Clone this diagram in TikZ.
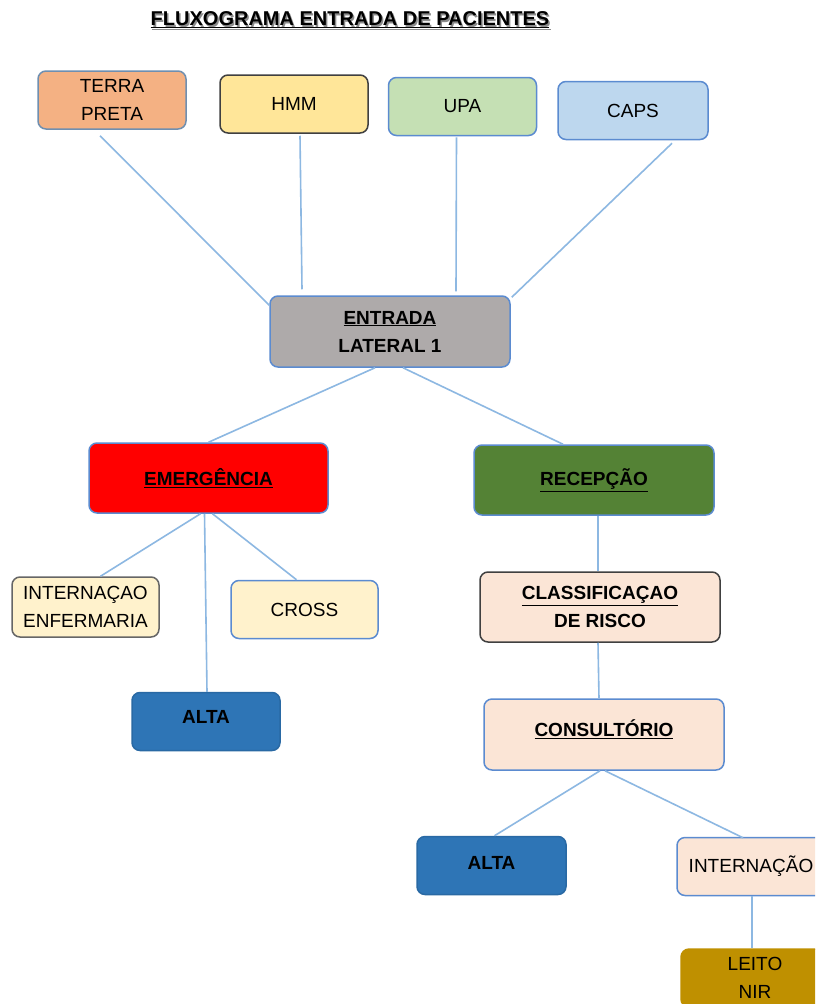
\documentclass[tikz,border=0pt]{standalone}
\usepackage{fontspec}
\setmainfont{Liberation Sans}
\usetikzlibrary{calc}
\definecolor{cTerra}{HTML}{F4B183}
\definecolor{cHmm}{HTML}{FFE699}
\definecolor{cUpa}{HTML}{C5E0B4}
\definecolor{cCaps}{HTML}{BDD7EE}
\definecolor{cEntr}{HTML}{AEAAAA}
\definecolor{cEmer}{HTML}{FF0000}
\definecolor{cRecep}{HTML}{548235}
\definecolor{cCream}{HTML}{FFF2CC}
\definecolor{cPeach}{HTML}{FBE5D6}
\definecolor{cAlta}{HTML}{2E75B6}
\definecolor{cLeito}{HTML}{BF9000}
\definecolor{bBlue}{HTML}{5B8BD0}
\definecolor{bDark}{HTML}{404040}
\definecolor{bGray}{HTML}{6F8FB0}
\definecolor{cLine}{HTML}{8DB8E2}
\begin{document}
\begin{tikzpicture}[x=1pt,y=-1pt,
  box/.style={draw=bBlue,line width=1.5pt,rounded corners=8pt,align=center,
    inner sep=0pt,font=\fontsize{19}{28}\selectfont,text=black},
  sbox/.style={box,minimum width=148pt,minimum height=58pt},
  lbox/.style={box,minimum width=240pt,minimum height=70pt},
  conn/.style={draw=cLine,line width=1.6pt},
  ttl/.style={font=\fontsize{20}{22}\selectfont\bfseries,inner sep=0pt}]
\clip (0,0) rectangle (815,1004);
\fill[white] (0,0) rectangle (815,1004);
% title
\node[ttl,text=black!45] (titleshadow) at (351.5,21.5) {\underline{FLUXOGRAMA ENTRADA DE PACIENTES}};
\node[ttl] (title) at (350,20) {\underline{FLUXOGRAMA ENTRADA DE PACIENTES}};
% top row
\node[sbox,fill=cTerra,draw=bGray] (terra) at (112,100) {TERRA\\PRETA};
\node[sbox,fill=cHmm,draw=bDark] (hmm) at (294,104) {HMM};
\node[sbox,fill=cUpa] (upa) at (462.5,106.5) {UPA};
\node[sbox,fill=cCaps,minimum width=150pt] (caps) at (633,110.5) {CAPS};
% middle
\node[lbox,fill=cEntr,minimum height=71pt] (entr) at (390,331.5) {\bfseries\underline{ENTRADA}\\\bfseries LATERAL 1};
\node[lbox,fill=cEmer,minimum width=239pt] (emer) at (208.5,478) {\bfseries\underline{EMERGÊNCIA}};
\node[lbox,fill=cRecep] (recep) at (594,480) {\bfseries\underline{RECEPÇÃO}};
% emergencia branch
\node[sbox,fill=cCream,draw=bDark!80,minimum width=147pt,minimum height=60pt] (intenf) at (85.5,607) {INTERNAÇAO\\ENFERMARIA};
\node[sbox,fill=cCream,minimum width=147pt] (cross) at (304.5,609.5) {CROSS};
\node[sbox,fill=cAlta,draw=cAlta!90!black,text depth=9pt] (alta1) at (206,721.5) {\bfseries ALTA};
% recepcao branch
\node[lbox,fill=cPeach,draw=bDark] (class) at (600,607) {\bfseries\underline{CLASSIFICAÇAO}\\\bfseries DE RISCO};
\node[lbox,fill=cPeach,minimum height=71pt,text depth=12pt] (cons) at (604,734.5) {\bfseries\underline{CONSULTÓRIO}};
\node[sbox,fill=cAlta,draw=cAlta!90!black,minimum width=149pt,text depth=6pt] (alta2) at (491.5,865.5) {\bfseries ALTA};
\node[sbox,fill=cPeach] (intern) at (751,866.5) {INTERNAÇÃO};
\node[sbox,fill=cLeito,draw=cLeito] (leito) at (755,978) {LEITO\\NIR};
% connectors
\draw[conn] ([xshift=-12pt,yshift=-6pt]terra.south) -- ([yshift=-10pt]entr.north west);
\draw[conn] ([xshift=6pt,yshift=-2pt]hmm.south) -- ([xshift=-88pt,yshift=6pt]entr.north);
\draw[conn] ([xshift=-6pt,yshift=-1pt]upa.south) -- ([xshift=66pt,yshift=4pt]entr.north);
\draw[conn] ([xshift=39pt,yshift=-3pt]caps.south) -- ([xshift=1pt,yshift=-2pt]entr.north east);
\draw[conn] ([xshift=-15pt]entr.south) -- (emer.north);
\draw[conn] ([xshift=13pt]entr.south) -- ([xshift=-31pt]recep.north);
\draw[conn] ([xshift=-8pt]emer.south) -- ([xshift=15pt]intenf.north);
\draw[conn] ([xshift=4pt]emer.south) -- ([xshift=-8pt]cross.north);
\draw[conn] ([xshift=-4pt]emer.south) -- ([xshift=1pt]alta1.north);
\draw[conn] ([xshift=4pt]recep.south) -- ([xshift=-2pt]class.north);
\draw[conn] ([xshift=-2pt]class.south) -- ([xshift=-5pt]cons.north);
\draw[conn] ([xshift=-4pt]cons.south) -- ([xshift=3pt]alta2.north);
\draw[conn] ([xshift=1pt]cons.south) -- ([xshift=-8pt,yshift=-1pt]intern.north);
\draw[conn] ([xshift=1pt]intern.south) -- ([xshift=-3pt]leito.north);
\end{tikzpicture}
\end{document}
